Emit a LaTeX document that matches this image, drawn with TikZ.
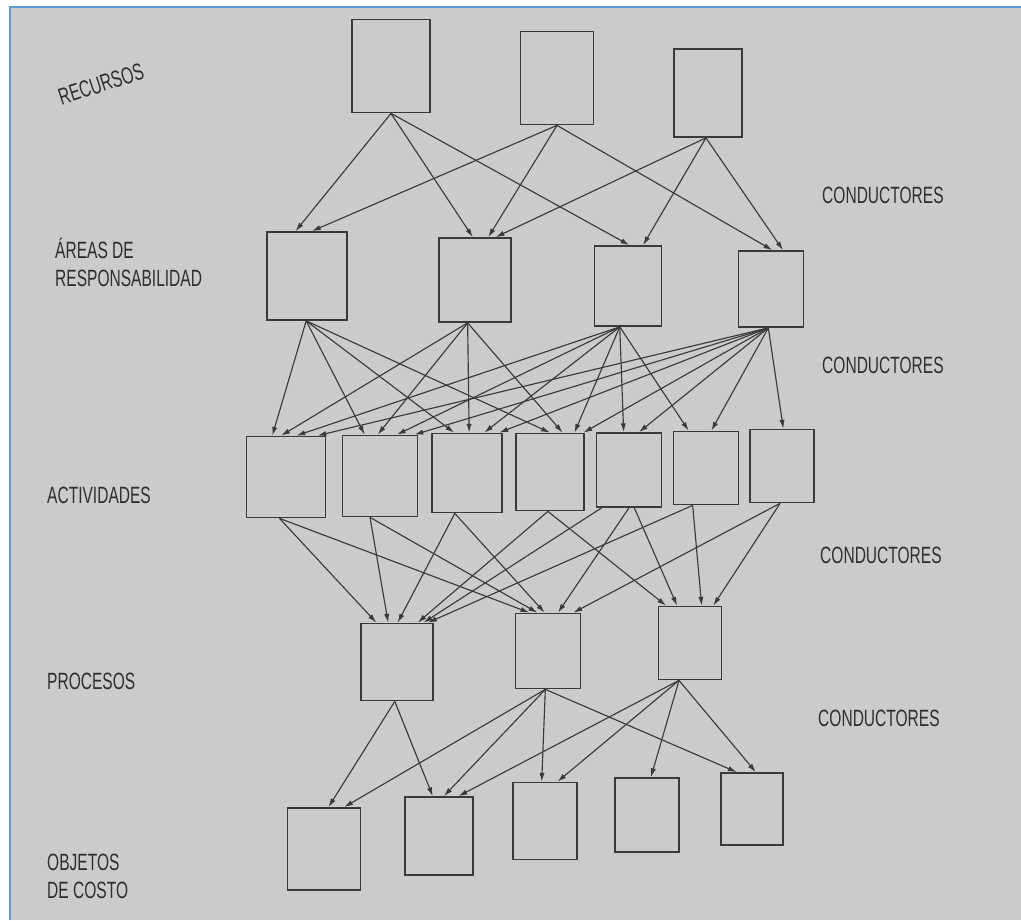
\documentclass[tikz,border=0pt]{standalone}
\usepackage{fontspec}
\setmainfont{Liberation Sans}
\usepackage{xcolor}
\usepackage{tikz}
\usetikzlibrary{arrows.meta,calc}
\definecolor{paper}{RGB}{203,203,205}
\definecolor{ink}{RGB}{58,58,58}
\definecolor{frameblue}{RGB}{91,155,213}
\tikzset{
  blk/.style={draw=ink, line width=1pt, inner sep=0pt},            % empty box
  flow/.style={-{Latex[length=5pt,width=3pt]}, draw=ink, line width=0.65pt},
  lvl/.style={font=\fontsize{13.4}{16}\selectfont, text=black!82, xscale=0.66,
              inner sep=0pt, anchor=west, align=left}              % level names
}
\newcommand{\Link}[4]{%
  \draw[flow] ($(#1.south west)!#2!(#1.south east)$) -- ($(#3.north west)!#4!(#3.north east)$);%
}

\begin{document}
\begin{tikzpicture}[x=0.02cm, y=-0.02cm]
  \useasboundingbox (0,0) rectangle (1021,920);
  % page photo and frame
  \fill[white] (0,0) rectangle (1021,920);
  \fill[paper] (10,7) rectangle (1021,920);
  \draw[frameblue, line width=1.2pt] (10,920) -- (10,7) -- (1021,7);
  % boxes: name/x/y/width/height
  \foreach \n/\x/\y/\w/\h in {
      R1/391/66/78/93, R2/557/78/73/93, R3/708/93/68/88,
      A1/307/276/80/88, A2/475/280/72/84, A3/628/286/67/80, A4/771/289/65/76,
      C1/286/477/79/81, C2/380/476/75/81, C3/467/473/70/79, C4/550/472/68/77,
      C5/629/470/65/74, C6/706/468/65/73, C7/782/466/64/73,
      P1/397/662/72/77, P2/548/651/65/75, P3/690/643/63/73,
      O1/324/849/73/82, O2/439/836/68/78, O3/545/821/64/77, O4/647/815/64/74,
      O5/752/809/62/72}{
    \node[blk, minimum width=\w*0.02cm, minimum height=\h*0.02cm] (\n) at (\x,\y) {};
  }
  % resources -> areas
  \foreach \s/\a/\t/\b in {R1/.5/A1/.36, R1/.5/A2/.47, R1/.5/A3/.52,
      R2/.5/A1/.56, R2/.5/A2/.68, R2/.5/A4/.52,
      R3/.47/A2/.78, R3/.47/A3/.72, R3/.47/A4/.68}{\Link{\s}{\a}{\t}{\b}}
  % areas -> activities
  \foreach \s/\a/\t/\b in {A1/.49/C1/.33, A1/.49/C2/.3, A1/.49/C3/.32, A1/.49/C4/.5,
      A2/.4/C1/.44, A2/.4/C2/.47, A2/.4/C3/.53, A2/.4/C4/.68,
      A3/.38/C1/.63, A3/.38/C2/.72, A3/.38/C3/.74, A3/.38/C4/.85, A3/.38/C5/.42, A3/.38/C6/.24,
      A4/.46/C1/.89, A4/.46/C2/.95, A4/.46/C3/.95, A4/.46/C4/.98, A4/.46/C5/.65,
      A4/.46/C6/.58, A4/.46/C7/.52}{\Link{\s}{\a}{\t}{\b}}
  % activities -> processes
  \foreach \s/\a/\t/\b in {C1/.42/P1/.22, C1/.42/P2/.22, C2/.37/P1/.38, C2/.37/P2/.34,
      C3/.33/P1/.51, C3/.33/P2/.45, C4/.47/P1/.78, C4/.47/P3/.13,
      C5/.09/P1/.86, C5/.5/P2/.65, C5/.58/P3/.3, C6/.3/P1/.92, C6/.3/P3/.68,
      C7/.47/P2/.88, C7/.47/P3/.86}{\Link{\s}{\a}{\t}{\b}}
  % processes -> cost objects
  \foreach \s/\a/\t/\b in {P1/.47/O1/.56, P1/.47/O2/.41,
      P2/.46/O1/.77, P2/.46/O2/.57, P2/.46/O3/.45, P2/.46/O5/.26,
      P3/.33/O2/.78, P3/.33/O3/.69, P3/.33/O4/.56, P3/.33/O5/.56}{\Link{\s}{\a}{\t}{\b}}
  % level names
  \node[lvl, xscale=1/0.66, rotate=18, anchor=center] (recursos) at (101,84)
    {\scalebox{0.66}[1]{RECURSOS}};
  \node[lvl] (areas) at (55,262) {ÁREAS DE\\RESPONSABILIDAD};
  \node[lvl] (actividades) at (47,495) {ACTIVIDADES};
  \node[lvl] (procesos) at (47,681) {PROCESOS};
  \node[lvl] (objetos) at (47,876) {OBJETOS\\DE COSTO};
  % drivers
  \node[lvl] (cond1) at (822,195) {CONDUCTORES};
  \node[lvl] (cond2) at (822,365) {CONDUCTORES};
  \node[lvl] (cond3) at (820,555) {CONDUCTORES};
  \node[lvl] (cond4) at (818,718) {CONDUCTORES};
\end{tikzpicture}
\end{document}
